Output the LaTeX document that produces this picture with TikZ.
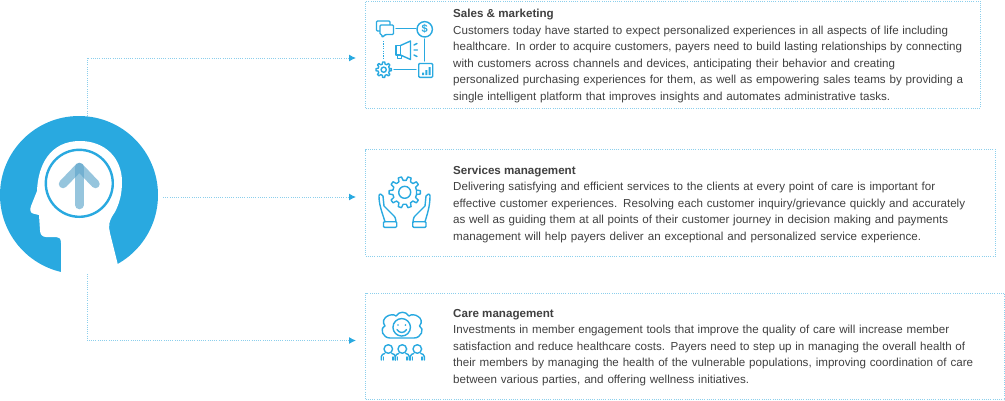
\documentclass[tikz,border=0pt]{standalone}
\usepackage{fontspec}
\setmainfont{Liberation Sans}
\usetikzlibrary{arrows.meta}
\definecolor{bl}{HTML}{29A9E0}
\definecolor{dot}{HTML}{8CCFEC}
\definecolor{tx}{HTML}{404040}
\definecolor{arr}{HTML}{5FA6CC}
\newcommand\jl[2]{\makebox[#1pt][s]{#2}}
\tikzset{
 panel/.style={draw=dot,line width=1pt,dash pattern=on 1pt off 1.2pt,anchor=north west,inner sep=0pt},
 conn/.style={draw=dot,line width=1pt,dash pattern=on 1pt off 1.2pt},
 tipline/.style={-{Latex[length=7pt,width=7pt,color=bl]}},
 ico/.style={draw=bl,line width=1.4pt,line join=round,line cap=round},
 body/.style={anchor=north west,inner sep=0pt,align=left,text=tx,font=\fontsize{11.6}{16.55}\selectfont},
 upstroke/.style={draw=arr,line width=8.5pt,line cap=round,line join=round,draw opacity=.65}
}
\newcommand\gearicon[5]{%
 \begin{scope}[shift={(#1,#2)}]
 \draw[ico] (-0.3*360/#5:#4) \foreach \i [evaluate=\i as \a using \i*360/#5] in {0,...,#5} {
   -- (\a-0.3*360/#5:#4) -- (\a-0.17*360/#5:#3) -- (\a+0.17*360/#5:#3) -- (\a+0.3*360/#5:#4)
 } -- cycle;
 \end{scope}}
\newcommand\person[1]{%
 \begin{scope}[shift={(#1,349)}]
 \draw[ico] (0,0) circle (4.3);
 \draw[ico] (-7,11) -- (-7,7.5) .. controls (-7,5.5) and (-5,5) .. (-3.5,4.5);
 \draw[ico] (7,11) -- (7,7.5) .. controls (7,5.5) and (5,5) .. (3.5,4.5);
 \draw[ico] (-4.6,11) -- (-4.6,8);
 \draw[ico] (4.6,11) -- (4.6,8);
 \end{scope}}
\begin{document}
\begin{tikzpicture}[x=1pt,y=-1pt]
\useasboundingbox (0,0) rectangle (1005,400);
% head
\node[circle,fill=bl,minimum size=158pt,inner sep=0pt] (disc) at (79,195) {};
\fill[white] (61,282) -- (61,243) .. controls (61,238) and (59,237) .. (56,237) -- (46,237)
 .. controls (42,237) and (40,234) .. (40,230) -- (39,215) -- (33,213.5) .. controls (30,213) and (30,209) .. (31,206)
 -- (37,191) .. controls (38,165) and (50,141) .. (80,141) .. controls (105,141) and (122,158) .. (122,182)
 .. controls (122,195) and (119,204) .. (115,212) .. controls (109,220) and (108,226) .. (110,233) -- (118,265) -- (118,282) -- cycle;
\node[circle,draw=bl,line width=2.4pt,minimum size=67pt,inner sep=0pt] (ring) at (79.3,183.3) {};
\draw[upstroke] (79.3,205) -- (79.3,167);
\draw[upstroke] (63,184) -- (79.3,167) -- (95.5,184);
% panels
\node[panel,minimum width=615pt,minimum height=107pt] (p1) at (365,0.5) {};
\node[panel,minimum width=630pt,minimum height=107pt] (p2) at (365,149) {};
\node[panel,minimum width=639pt,minimum height=106.5pt] (p3) at (365,292.7) {};
% connectors
\coordinate (c1) at (87,116);
\coordinate (c2) at (163,197);
\coordinate (c3) at (87,274);
\coordinate (t1) at (356,58);
\coordinate (t2) at (356,197);
\coordinate (t3) at (356,340.5);
\draw[conn,tipline] (c1) |- (t1);
\draw[conn,tipline] (c2) -- (t2);
\draw[conn,tipline] (c3) |- (t3);
% text
\node[body] (b1) at (453,9) {\textbf{Sales \& marketing}\\
\jl{495}{Customers today have started to expect personalized experiences in all aspects of life including}\\
\jl{509}{healthcare. In order to acquire customers, payers need to build lasting relationships by connecting}\\
\jl{442}{with customers across channels and devices, anticipating their behavior and creating}\\
\jl{510}{personalized purchasing experiences for them, as well as empowering sales teams by providing a}\\
\jl{437}{single intelligent platform that improves insights and automates administrative tasks.}};
\node[body] (b2) at (453,165.5) {\textbf{Services management}\\
\jl{482}{Delivering satisfying and efficient services to the clients at every point of care is important for}\\
\jl{512}{effective customer experiences. Resolving each customer inquiry/grievance quickly and accurately}\\
\jl{495}{as well as guiding them at all points of their customer journey in decision making and payments}\\
\jl{468}{management will help payers deliver an exceptional and personalized service experience.}};
\node[body] (b3) at (453,309) {\textbf{Care management}\\
\jl{496}{Investments in member engagement tools that improve the quality of care will increase member}\\
\jl{512}{satisfaction and reduce healthcare costs. Payers need to step up in managing the overall health of}\\
\jl{520}{their members by managing the health of the vulnerable populations, improving coordination of care}\\
\jl{296}{between various parties, and offering wellness initiatives.}};
% icon 1
\draw[ico] (396,28.7) -- (416,28.7);
\draw[ico] (424.7,39) -- (424.7,61);
\draw[ico] (394,69.7) -- (416,69.7);
\draw[ico,dash pattern=on 1.2pt off 1.2pt,line cap=butt] (383.7,41) -- (383.7,59);
\draw[ico,fill=white,rounded corners=1pt] (376.5,21) rectangle (390,31);
\draw[ico,fill=white,rounded corners=1pt] (380,25) -- (393.5,25) -- (393.5,34.5) -- (385.5,34.5) -- (382,37.5) -- (382,34.5) -- (380,34.5) -- cycle;
\draw[ico] (424.7,29.3) circle (7.7);
\node[inner sep=0pt,text=bl,font=\bfseries\fontsize{11}{11}\selectfont] (dollar) at (424.7,29.3) {\$};
\gearicon{383.7}{69.7}{7.8}{5.8}{8}
\draw[ico] (383.7,69.7) circle (2.6);
\draw[ico,rounded corners=1pt] (418.7,63.5) rectangle (432.7,77.3);
\fill[bl] (422,72.5) rectangle (424,75) (425.3,70) rectangle (427.3,75) (428.6,67) rectangle (430.6,75);
\draw[ico] (396,45.5) rectangle (400.5,55);
\draw[ico] (400.5,45.5) -- (410.5,41) -- (410.5,59.5) -- (400.5,55);
\draw[ico] (397.5,55) -- (397.5,58.5) -- (401.5,58.5) -- (401.5,55.5);
\draw[ico] (414,45) -- (417,43.5) (414,50) -- (417.5,50) (414,55) -- (417,56.5);
% icon 2
\gearicon{404.7}{192.3}{15.7}{12}{10}
\draw[ico] (404.7,192.3) circle (6);
\draw[ico,rounded corners=1pt] (383.5,221.7) rectangle (396.7,227.3);
\draw[ico,rounded corners=1pt] (412.7,221.7) rectangle (426,227.3);
\draw[ico] (385,221.7) .. controls (382,212) and (379,205) .. (379,196) .. controls (379,193) and (382,194) .. (383,196)
 -- (384,206) -- (392,214) .. controls (395.5,217) and (396,219) .. (396,221.7);
\draw[ico] (425,221.7) .. controls (428,212) and (430,205) .. (430,196) .. controls (430,193) and (427,194) .. (426,196)
 -- (425,206) -- (417,214) .. controls (413.5,217) and (413,219) .. (413,221.7);
% icon 3
\draw[ico] (390,338) .. controls (383,338) and (379,329) .. (385,326) .. controls (379,318) and (392,312) .. (396,316)
 .. controls (399,311) and (406,311) .. (409,316) .. controls (413,312) and (426,318) .. (419.5,326)
 .. controls (425,329) and (421,338) .. (414,338) -- (390,338);
\node[circle,draw=bl,fill=white,line width=1.4pt,minimum size=17.5pt,inner sep=0pt] (face) at (401.7,327.3) {};
\fill[bl] (398,325) circle (.9) (405.4,325) circle (.9);
\draw[ico] (397,329.5) .. controls (399,333.5) and (404.5,333.5) .. (406.5,329.5);
\person{388.3}
\person{402.3}
\person{417.3}
\end{tikzpicture}
\end{document}
